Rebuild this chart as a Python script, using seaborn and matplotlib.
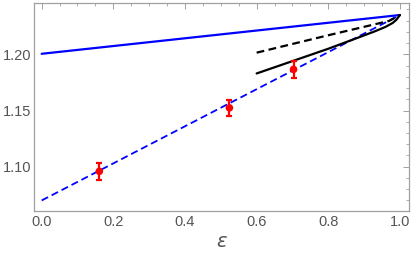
import numpy as np
import pandas as pd
import seaborn as sns
import matplotlib.pyplot as plt
from matplotlib.ticker import MultipleLocator

# Values
blue_solid_x = [0.0, 1.0]
blue_solid_y = [1.2005, 1.2350]
blue_dash_x = [0.0, 1.0]
blue_dash_y = [1.0700, 1.2350]
black_solid_x = [0.60, 0.70, 0.80, 0.88, 0.93, 0.96, 0.98, 0.99, 1.00]
black_solid_y = [1.183, 1.194, 1.205, 1.2145, 1.2205, 1.2245, 1.2280, 1.2308, 1.235]
black_dash_x = [0.60, 0.80, 0.90, 0.97, 1.00]
black_dash_y = [1.2015, 1.2170, 1.2245, 1.2298, 1.235]
pts_x = [0.161, 0.524, 0.703]
pts_y = [1.0959, 1.1524, 1.1866]
pts_err = [0.0075, 0.0070, 0.0075]

sns.set_style("white")
plt.rcParams['font.family'] = ['Liberation Sans', 'DejaVu Sans']

fig, ax = plt.subplots(figsize=(4.13, 2.59), dpi=100)
fig.subplots_adjust(left=0.083, right=0.991, bottom=0.187, top=0.988)

sns.lineplot(x=blue_solid_x, y=blue_solid_y, ax=ax, color=(0, 0, 1), lw=1.6)
sns.lineplot(x=blue_dash_x, y=blue_dash_y, ax=ax, color=(0, 0, 1), lw=1.3,
             linestyle=(0, (4, 2.2)))
sns.lineplot(x=black_solid_x, y=black_solid_y, ax=ax, color='black', lw=1.6)
sns.lineplot(x=black_dash_x, y=black_dash_y, ax=ax, color='black', lw=1.6,
             linestyle=(0, (3.5, 2)))

ax.errorbar(pts_x, pts_y, yerr=pts_err, fmt='none', ecolor=(1, 0, 0),
            elinewidth=1.6, capsize=2.5, capthick=1.6, zorder=4)
sns.scatterplot(x=pts_x, y=pts_y, ax=ax, color=(1, 0, 0), s=30,
                edgecolor='none', zorder=5)

ax.set_xlim(-0.0206, 1.026)
ax.set_ylim(1.061, 1.2456)
ax.xaxis.set_major_locator(MultipleLocator(0.2))
ax.xaxis.set_minor_locator(MultipleLocator(0.05))
ax.yaxis.set_major_locator(MultipleLocator(0.05))
ax.yaxis.set_minor_locator(MultipleLocator(0.01))
ax.xaxis.set_major_formatter(plt.FormatStrFormatter('%.1f'))
ax.yaxis.set_major_formatter(plt.FormatStrFormatter('%.2f'))

grey = '#a0a0a0'
for s in ax.spines.values():
    s.set_color(grey)
    s.set_linewidth(0.9)
ax.tick_params(which='both', direction='in', top=True, right=True,
               color=grey, labelcolor='#555555', labelsize=10.5)
ax.tick_params(which='major', length=4, width=0.7, pad=3)
ax.tick_params(axis='y', which='major', pad=2)
ax.tick_params(which='minor', length=2.2, width=0.6)

ax.set_xlabel(r'$\epsilon$', fontsize=14, color='#555555', labelpad=4)
ax.set_ylabel('')

fig.savefig('out.png', dpi=100)
